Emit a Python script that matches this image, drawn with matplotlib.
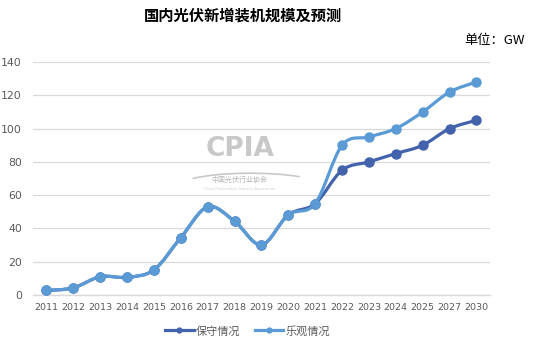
import matplotlib
matplotlib.use("Agg")
import matplotlib.pyplot as plt
from matplotlib.path import Path
from matplotlib.patches import PathPatch, Arc
import numpy as np

plt.rcParams['font.family'] = ['Noto Sans CJK SC', 'DejaVu Sans']

years = ['2011', '2012', '2013', '2014', '2015', '2016', '2017', '2018', '2019',
         '2020', '2021', '2022', '2023', '2024', '2025', '2027', '2030']
conservative = [2.7, 4.3, 11, 10.6, 15.1, 34.5, 53, 44.3, 30.1, 48.2, 54.9,
                75, 80, 85, 90, 100, 105]
optimistic = [2.7, 4.3, 11, 10.6, 15.1, 34.5, 53, 44.3, 30.1, 48.2, 54.9,
              90, 95, 100, 110, 122, 128]
series_names = ['保守情况', '乐观情况']
colors = ['#4262AC', '#5B9BD5']
yticks = [0, 20, 40, 60, 80, 100, 120, 140]

fig = plt.figure(figsize=(5.33, 3.43), dpi=100)
ax = fig.add_axes([0.062, 0.140, 0.857, 0.679])


def smooth_path(x, y, t=1 / 6):
    x = np.asarray(x, float); y = np.asarray(y, float)
    n = len(x)
    verts = [(x[0], y[0])]
    codes = [Path.MOVETO]
    for i in range(n - 1):
        p0 = np.array([x[max(i - 1, 0)], y[max(i - 1, 0)]])
        p1 = np.array([x[i], y[i]])
        p2 = np.array([x[i + 1], y[i + 1]])
        p3 = np.array([x[min(i + 2, n - 1)], y[min(i + 2, n - 1)]])
        c1 = p1 + (p2 - p0) * t
        c2 = p2 - (p3 - p1) * t
        verts += [tuple(c1), tuple(c2), tuple(p2)]
        codes += [Path.CURVE4] * 3
    return Path(verts, codes)


xs = np.arange(len(years))
for vals, c in [(conservative, colors[0]), (optimistic, colors[1])]:
    ax.add_patch(PathPatch(smooth_path(xs, vals), facecolor='none', edgecolor=c,
                           lw=2.3, capstyle='round', joinstyle='round', zorder=3))
    ax.plot(xs, vals, linestyle='none', marker='o', ms=6.5, color=c, zorder=4)

# legend proxies
for name, c in zip(series_names, colors):
    ax.plot([], [], color=c, lw=2.3, marker='o', ms=3.5, label=name)

ax.set_xlim(-0.5, len(years) - 0.5)
ax.set_ylim(0, 140)
ax.set_yticks(yticks)
ax.set_xticks(xs)
ax.set_xticklabels(years)
ax.grid(axis='y', color='#D9D9D9', lw=0.9)
ax.set_axisbelow(True)
for s in ['top', 'right', 'left']:
    ax.spines[s].set_visible(False)
ax.spines['bottom'].set_color('#D9D9D9')
ax.spines['bottom'].set_linewidth(1.0)
ax.tick_params(axis='both', length=0, colors='#595959')
ax.tick_params(axis='y', labelsize=7.8, pad=8)
ax.tick_params(axis='x', labelsize=6.8, pad=6)
for lab in ax.get_xticklabels() + ax.get_yticklabels():
    lab.set_family(['DejaVu Sans'])

# watermark
fig.text(0.45, 0.565, 'CPIA', fontsize=19, fontweight='bold', color='#C8C8C8',
         ha='center', va='center', family=['DejaVu Sans'])
fig.add_artist(Arc((0.47, 0.46), 0.26, 0.07, theta1=15, theta2=170,
                   transform=fig.transFigure, color='#C8C8C8', lw=1.2))
fig.text(0.45, 0.475, '中国光伏行业协会', fontsize=5, color='#B5B5B5',
         ha='center', va='center')
fig.text(0.45, 0.45, 'China Photovoltaic Industry Association', fontsize=2.5,
         color='#CCCCCC', ha='center', va='center', family=['DejaVu Sans'])

fig.text(0.456, 0.955, '国内光伏新增装机规模及预测', fontsize=11, fontweight='bold',
         ha='center', va='center', color='#000000')
fig.text(0.985, 0.882, '单位：GW', fontsize=9.5, ha='right', va='center',
         color='#000000')

leg = ax.legend(loc='center', ncol=2, frameon=False, fontsize=8,
                handlelength=2.6, columnspacing=1.3, handletextpad=0.15,
                labelcolor='#595959')
leg.set_bbox_to_anchor((0.464, 0.035), transform=fig.transFigure)

fig.savefig('out.png', dpi=100)
